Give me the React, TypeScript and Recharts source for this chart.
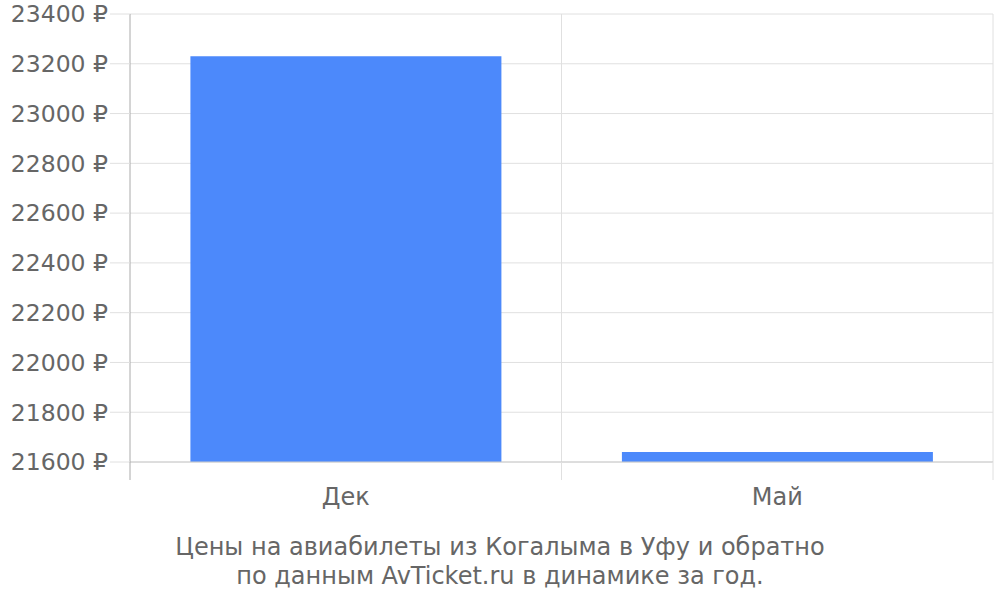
import React from 'react';
import { BarChart, Bar, XAxis, YAxis, CartesianGrid } from 'recharts';

const categories = ['Дек', 'Май'];
const prices = [23230, 21640];
const yTicks = [21600, 21800, 22000, 22200, 22400, 22600, 22800, 23000, 23200, 23400];
const titleLines = [
  'Цены на авиабилеты из Когалыма в Уфу и обратно',
  'по данным AvTicket.ru в динамике за год.',
];

const data = categories.map((c, i) => ({ name: c, price: prices[i] }));

const FONT = '"DejaVu Sans", sans-serif';
const TEXT = '#666666';
const AXIS_TOP_GAP = 20;

const CategoryTick = (props: any) => {
  const { x, y, width, visibleTicksCount, index, payload } = props;
  const band = width / (visibleTicksCount || categories.length);
  const axisY = y - AXIS_TOP_GAP - 6;
  const left = x - band / 2;
  const right = x + band / 2;
  return (
    <g>
      <line x1={left} x2={left} y1={axisY} y2={axisY + 18} stroke={index === 0 ? '#aaaaaa' : '#e0e0e0'} />
      <line x1={right} x2={right} y1={axisY} y2={axisY + 18} stroke="#e0e0e0" />
      <text x={x} y={y} dy="0.71em" textAnchor="middle" fill={TEXT} fontSize={24} fontFamily={FONT}>
        {payload.value}
      </text>
    </g>
  );
};

export default function App() {
  return (
    <div style={{ position: 'absolute', left: 0, top: 0, width: 1000, height: 600, background: '#fff', fontFamily: FONT }}>
      <BarChart
        width={1000}
        height={600}
        data={data}
        margin={{ top: 14, right: 7, left: 0, bottom: 98 }}
        barCategoryGap="14%"
      >
        <CartesianGrid
          stroke="#e0e0e0"
          strokeWidth={1}
          verticalCoordinatesGenerator={({ offset }: any) =>
            categories.map((_, i) => offset.left + (offset.width * (i + 1)) / categories.length)
          }
        />
        <XAxis
          dataKey="name"
          height={40}
          axisLine={{ stroke: '#cccccc' }}
          tickLine={false}
          tickMargin={AXIS_TOP_GAP}
          interval={0}
          tick={<CategoryTick />}
        />
        <YAxis
          width={130}
          domain={[21600, 23400]}
          ticks={yTicks}
          interval={0}
          allowDataOverflow
          axisLine={{ stroke: '#aaaaaa' }}
          tickLine={{ stroke: '#e0e0e0' }}
          tickSize={20}
          tickMargin={2}
          tickFormatter={(v: number) => `${v} ₽`}
          tick={{ fill: TEXT, fontSize: 23.5, fontFamily: FONT }}
        />
        <Bar dataKey="price" fill="#4c89fb" isAnimationActive={false} />
      </BarChart>
      <div
        style={{
          position: 'absolute',
          left: 0,
          top: 533,
          width: 1000,
          textAlign: 'center',
          color: TEXT,
          fontSize: 24,
          lineHeight: '29px',
          fontFamily: FONT,
        }}
      >
        {titleLines.map((l) => (
          <div key={l}>{l}</div>
        ))}
      </div>
    </div>
  );
}
